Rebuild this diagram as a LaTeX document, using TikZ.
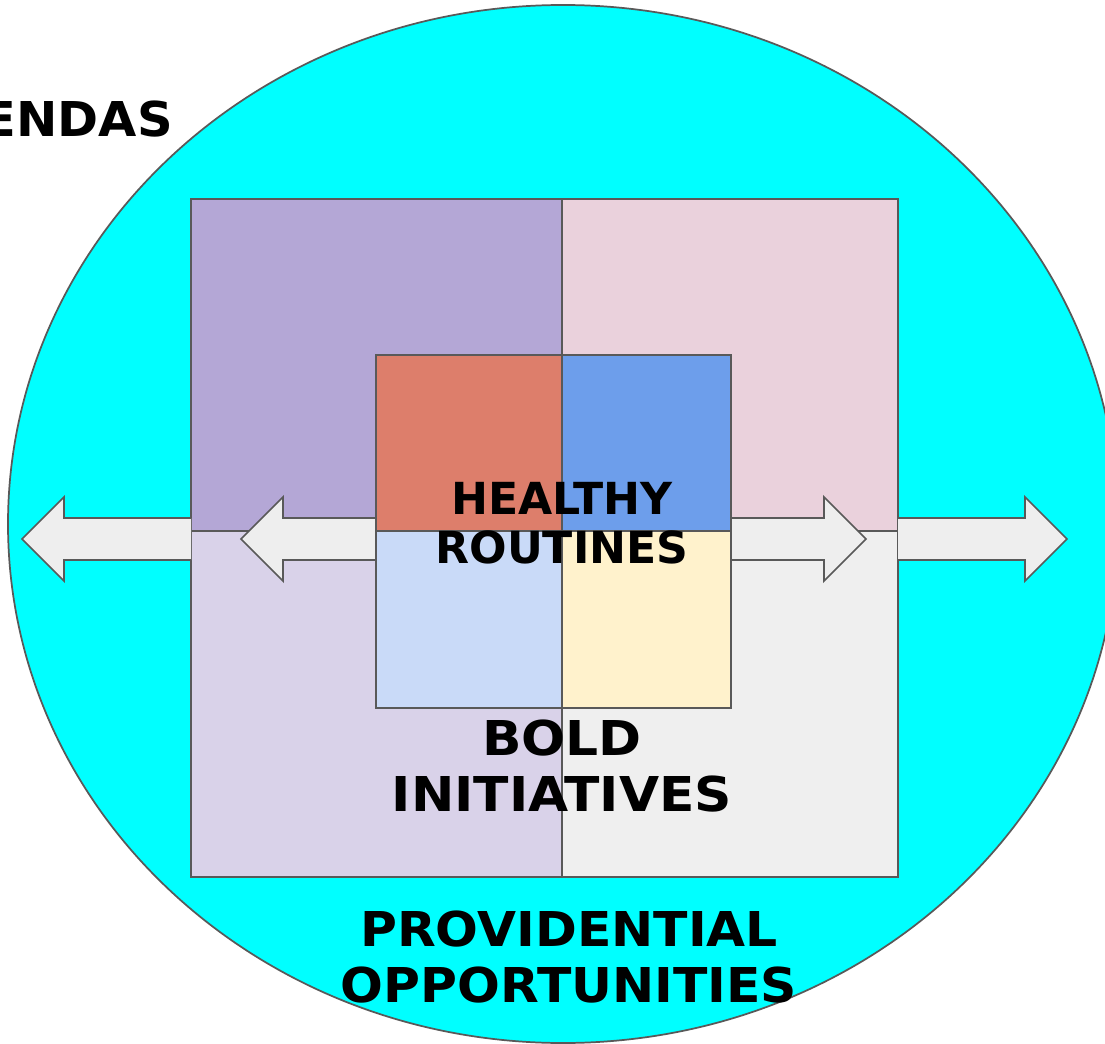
\documentclass[tikz,border=0pt]{standalone}
\usepackage{fontspec}
\setmainfont{DejaVu Sans}
\definecolor{cyanbg}{HTML}{00FFFF}
\definecolor{edge}{HTML}{595959}
\definecolor{qpurple}{HTML}{B4A7D6}
\definecolor{qpink}{HTML}{EAD1DC}
\definecolor{qlav}{HTML}{D9D2E9}
\definecolor{qgray}{HTML}{EFEFEF}
\definecolor{qred}{HTML}{DD7E6B}
\definecolor{qblue}{HTML}{6D9EEB}
\definecolor{qlblue}{HTML}{C9DAF8}
\definecolor{qyellow}{HTML}{FFF2CC}
\definecolor{arrfill}{HTML}{EEEEEE}
\tikzset{
  outl/.style={draw=edge, line width=1.3pt},
  arr/.style={outl, fill=arrfill, line join=miter},
  lbl/.style={font=\bfseries\fontsize{36}{44}\selectfont, text=black, inner sep=0pt, align=center}
}
\begin{document}
\begin{tikzpicture}[x=0.75pt,y=-0.75pt]
\clip (0,0) rectangle (1105,1044);
\fill[white] (0,0) rectangle (1105,1044);
% big ellipse
\path[outl, fill=cyanbg] (563,524) ellipse [x radius=555, y radius=519];
% outer quadrants
\path[outl, fill=qpurple] (191,199) rectangle (562,531);
\path[outl, fill=qpink] (562,199) rectangle (898,531);
\path[outl, fill=qlav] (191,531) rectangle (562,877);
\path[outl, fill=qgray] (562,531) rectangle (898,877);
% arrows
\path[arr] (191,518) -- (64,518) -- (64,497) -- (22,539) -- (64,581) -- (64,560) -- (191,560);
\path[arr] (376,518) -- (283,518) -- (283,497) -- (241,539) -- (283,581) -- (283,560) -- (376,560);
\path[arr] (731,518) -- (824,518) -- (824,497) -- (866,539) -- (824,581) -- (824,560) -- (731,560);
\path[arr] (898,518) -- (1025,518) -- (1025,497) -- (1067,539) -- (1025,581) -- (1025,560) -- (898,560);
% inner quadrants
\path[outl, fill=qred] (376,355) rectangle (562,531);
\path[outl, fill=qblue] (562,355) rectangle (731,531);
\path[outl, fill=qlblue] (376,531) rectangle (562,708);
\path[outl, fill=qyellow] (562,531) rectangle (731,708);
% labels
\node[lbl, anchor=base east, xscale=1.03] (agendas) at (173,137) {AGENDAS};
\node[lbl, scale=0.92] (healthy) at (562,523) {HEALTHY\\[-4pt]ROUTINES};
\node[lbl, xscale=1.08] (bold) at (562,766) {BOLD\\[-2pt]INITIATIVES};
\node[lbl, xscale=1.05] (prov) at (569,957) {PROVIDENTIAL\\[-2pt]OPPORTUNITIES};
\end{tikzpicture}
\end{document}
